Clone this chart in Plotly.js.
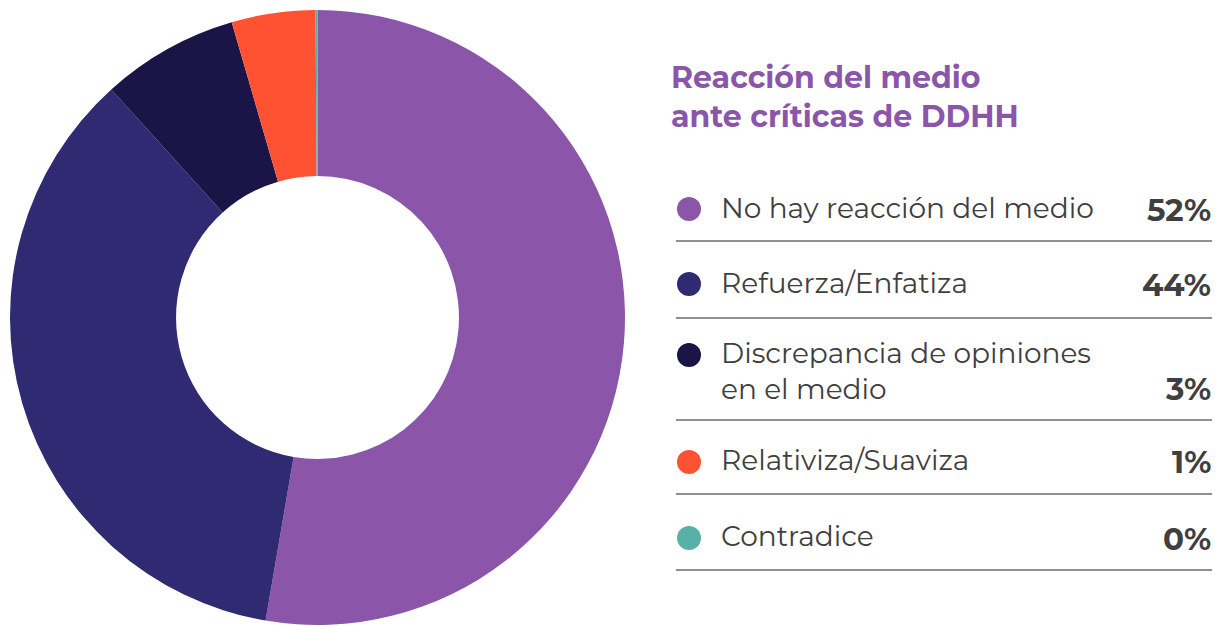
<!DOCTYPE html>
<html>
<head>
<meta charset="utf-8">
<script src="https://cdn.plot.ly/plotly-3.0.1.min.js"></script>
<style>html,body{margin:0;padding:0;background:#fff;}#chart{width:1227px;height:626px;}</style>
</head>
<body>
<div id="chart"></div>
<script>
// ---- data ----
var categories = ["No hay reacción del medio", "Refuerza/Enfatiza", "Discrepancia de opiniones<br>en el medio", "Relativiza/Suaviza", "Contradice"];
var sliceValues = [52.7, 35.6, 7.2, 4.4, 0.1];
var percentLabels = ["52%", "44%", "3%", "1%", "0%"];
var colors = ["#8B55AA", "#302A72", "#1B1547", "#FF5233", "#58B0A6"];
var chartTitle = "Reacción del medio<br>ante críticas de DDHH";

// ---- layout helpers (pixel positions) ----
var W = 1227, H = 626;
var rowTextY = [208, 283, 371, 460, 536];
var rowDotY = [209, 284, 355, 462, 538];
var rowPctY = [210, 285, 389, 462, 539];
var rowLineY = [241, 318, 420, 494, 570];
function px(x){ return x / W; }
function py(y){ return 1 - y / H; }

var FONT = "Montserrat, Inter, 'Open Sans', sans-serif";
var textColor = "#3f3f3f";

var trace = {
  type: "pie",
  labels: categories.map(function(c){ return c.replace("<br>", " "); }),
  values: sliceValues,
  marker: { colors: colors, line: { width: 0 } },
  hole: 0.46,
  sort: false,
  direction: "clockwise",
  rotation: 0,
  textinfo: "none",
  hoverinfo: "label+percent",
  domain: { x: [px(317.5 - 307.5), px(317.5 + 307.5)], y: [py(317.5 + 307.5), py(317.5 - 307.5)] }
};

var annotations = [];
var shapes = [];

annotations.push({
  xref: "paper", yref: "paper", x: px(669), y: py(97), xanchor: "left", yanchor: "middle",
  text: "<b>" + chartTitle + "</b>", align: "left", showarrow: false,
  font: { family: FONT, size: 30, color: "#8B55AA" }
});

for (var i = 0; i < categories.length; i++) {
  shapes.push({
    type: "circle", xref: "paper", yref: "paper",
    x0: px(677), x1: px(701), y0: py(rowDotY[i] + 12), y1: py(rowDotY[i] - 12),
    fillcolor: colors[i], line: { width: 0 }
  });
  annotations.push({
    xref: "paper", yref: "paper", x: px(719), y: py(rowTextY[i]), xanchor: "left", yanchor: "middle",
    text: categories[i], align: "left", showarrow: false,
    font: { family: FONT, size: 28, color: textColor }
  });
  annotations.push({
    xref: "paper", yref: "paper", x: px(1213), y: py(rowPctY[i]), xanchor: "right", yanchor: "middle",
    text: "<b>" + percentLabels[i] + "</b>", align: "right", showarrow: false,
    font: { family: FONT, size: 31, color: textColor }
  });
  shapes.push({
    type: "line", xref: "paper", yref: "paper",
    x0: px(676), x1: px(1212), y0: py(rowLineY[i]), y1: py(rowLineY[i]),
    line: { color: "#6a6a6a", width: 1.5 }
  });
}

var layout = {
  width: W, height: H,
  margin: { l: 0, r: 0, t: 0, b: 0 },
  paper_bgcolor: "#ffffff",
  showlegend: false,
  annotations: annotations,
  shapes: shapes
};

Plotly.newPlot("chart", [trace], layout, { displayModeBar: false, staticPlot: true });
</script>
</body>
</html>
